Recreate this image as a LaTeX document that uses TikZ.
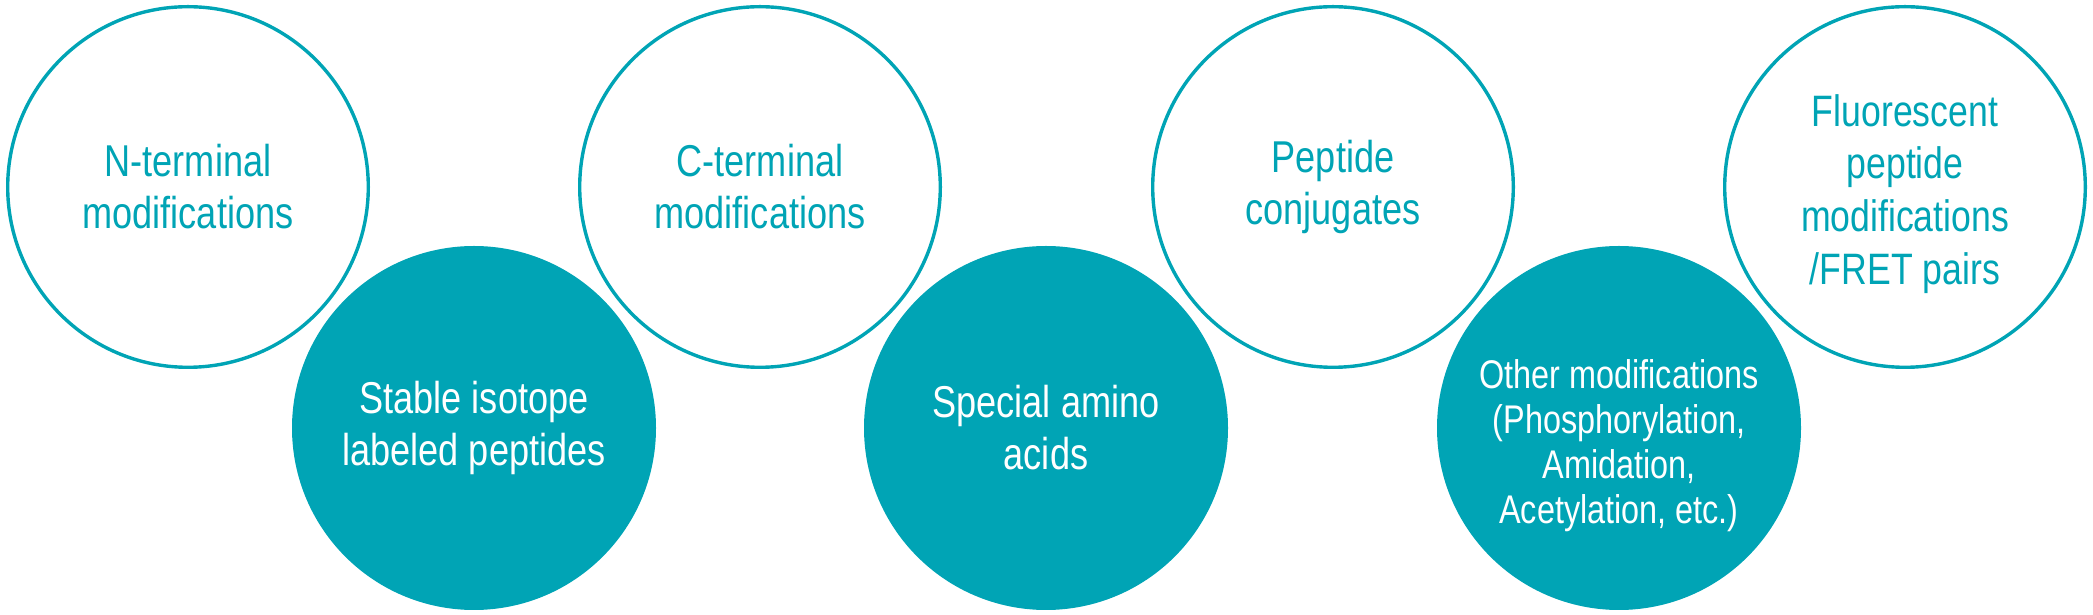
\documentclass[tikz,border=0pt]{standalone}
\usepackage{fontspec}
\usepackage{xcolor}
\usepackage{tikz}
\usetikzlibrary{positioning}
\newfontfamily\narrowsf[FakeStretch=0.81]{Liberation Sans}
\definecolor{peptal}{HTML}{00A4B5}

\begin{document}
\begin{tikzpicture}[x=1pt,y=1pt,
  ring/.style={circle,draw=peptal,line width=1.7pt,minimum size=180.3pt,inner sep=0pt,align=center,text=peptal,font=\narrowsf\fontsize{22.3}{26}\selectfont},
  disc/.style={ring,fill=peptal,text=white}]
\useasboundingbox (0,0) rectangle (1046.5,307.5);
\node[ring] (nterm) at (94,214) {N-terminal\\modifications};
\node[disc] (isotope) at (237,93.5) {Stable isotope\\labeled peptides};
\node[ring] (cterm) at (380,214) {C-terminal\\modifications};
\node[disc] (special) at (523,93.5) {Special amino\\acids};
\node[ring] (conj) at (666.5,214) {Peptide\\conjugates};
\node[disc] (other) at (809.5,93.5) {};
\node[font=\narrowsf\fontsize{20}{22.5}\selectfont,text=white,align=center,yshift=-9pt] (otherlbl) at (other) {Other modifications\\(Phosphorylation,\\Amidation,\\Acetylation, etc.)};
\node[ring] (fluor) at (952.5,214) {};
\node[text=peptal,font=\narrowsf\fontsize{22}{26.4}\selectfont,align=center,yshift=-3.5pt] (fluorlbl) at (fluor) {Fluorescent\\peptide\\modifications\\/FRET pairs};
\end{tikzpicture}
\end{document}
